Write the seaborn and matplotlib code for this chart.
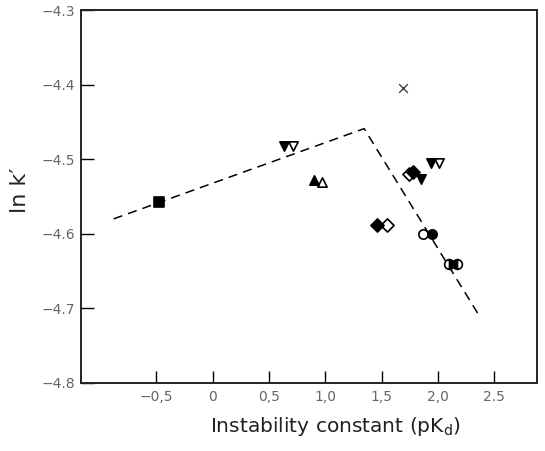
import matplotlib
matplotlib.use("Agg")
import matplotlib.pyplot as plt
import seaborn as sns
import pandas as pd

# Messpunkte
pk_x = [-0.48, 0.635, 0.71, 0.90, 0.97, 1.46, 1.55, 1.69, 1.74, 1.78, 1.85, 1.94, 2.01, 1.865, 1.95]
lnk_y = [-4.557, -4.482, -4.482, -4.528, -4.530, -4.588, -4.588, -4.404,
         -4.520, -4.517, -4.526, -4.505, -4.505, -4.600, -4.600]
marker_kind = ["s", "v", "v", "^", "^", "D", "D", "x", "D", "D", "v", "v", "v", "o", "o"]
filled = [True, True, False, True, False, True, False, True, False, True, True, True, False, False, True]

# halb gefuellte Kreise
half_x = [2.10, 2.17]
half_y = [-4.640, -4.640]
half_fill = ["right", "left"]

# gestrichelte Ausgleichsgerade (Knick)
line_x = [-0.88, 1.345, 2.38]
line_y = [-4.580, -4.459, -4.713]

xtick_pos = [-0.5, 0, 0.5, 1.0, 1.5, 2.0, 2.5]
xtick_lab = ["\u22120,5", "0", "0,5", "1,0", "1,5", "2,0", "2.5"]
ytick_pos = [-4.3, -4.4, -4.5, -4.6, -4.7, -4.8]
ytick_lab = ["\u22124.3", "\u22124.4", "\u22124.5", "\u22124.6", "\u22124.7", "\u22124.8"]

sns.set_style("ticks")
plt.rcParams["font.family"] = ["DejaVu Sans"]

fig = plt.figure(figsize=(5.45, 4.51), dpi=100)
ax = fig.add_axes([0.1486, 0.1508, 0.8367, 0.8270])

df_line = pd.DataFrame({"x": line_x, "y": line_y})
sns.lineplot(data=df_line, x="x", y="y", ax=ax, color="black", lw=1.1,
             linestyle=(0, (6, 4)))

df = pd.DataFrame({"x": pk_x, "y": lnk_y, "m": marker_kind, "f": filled})
for (m, f), grp in df.groupby(["m", "f"]):
    if m == "x":
        sns.scatterplot(data=grp, x="x", y="y", ax=ax, marker="x", s=40,
                        color="#444444", linewidth=1.0, zorder=3)
    else:
        sns.scatterplot(data=grp, x="x", y="y", ax=ax, marker=m, s=45,
                        facecolor="black" if f else "white",
                        edgecolor="black", linewidth=1.2, zorder=3)

for hx, hy, hf in zip(half_x, half_y, half_fill):
    ax.plot([hx], [hy], marker="o", ms=7, fillstyle=hf, color="black",
            markerfacecoloralt="white", mec="black", mew=1.2, ls="none", zorder=3)

ax.set_xlim(-1.17, 2.88)
ax.set_ylim(-4.8, -4.3)
ax.set_xticks(xtick_pos)
ax.set_xticklabels(xtick_lab)
ax.set_yticks(ytick_pos)
ax.set_yticklabels(ytick_lab)
ax.tick_params(direction="in", length=9, width=1.0, colors="black",
               labelcolor="#666666", labelsize=10)
ax.tick_params(axis="x", pad=5)
ax.tick_params(axis="y", pad=4)
for sp in ax.spines.values():
    sp.set_visible(True)
    sp.set_linewidth(1.4)
    sp.set_color("#222222")

ax.set_xlabel("")
ax.set_ylabel("")
fig.text(335 / 545, 1 - 427 / 451, "Instability constant (pK$_{\\mathregular{d}}$)",
         fontsize=14.5, color="#222222", ha="center", va="center")
fig.text(20 / 545, 1 - 190 / 451, "ln k\u2032", fontsize=16, color="#222222",
         rotation=90, ha="center", va="center")

fig.savefig("out.png", dpi=100)
